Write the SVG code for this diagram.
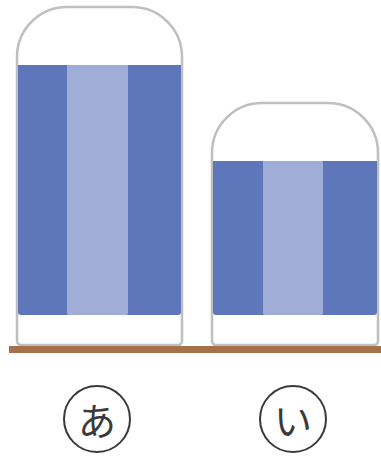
<svg xmlns="http://www.w3.org/2000/svg" width="381" height="456" viewBox="0 0 381 456">
<style>
.jar{fill:#fff;stroke:#BEBEC3;stroke-width:2.5}
.dark{fill:#5E77BB}
.light{fill:#A0ADD6}
.lbl{fill:#fff;stroke:#3a3a3a;stroke-width:2}
.t{font-family:"Noto Sans CJK JP",sans-serif;font-size:38px;fill:#3a3a3a;text-anchor:middle;dominant-baseline:central}
</style>
<g id="jarA">
<path class="jar" d="M17,341 V57 A50,50 0 0 1 67,7 H132 A50,50 0 0 1 182,57 V341 A4,4 0 0 1 178,345 H21 A4,4 0 0 1 17,341 Z"/>
<path class="dark" d="M18,65 H181 V312 A3,3 0 0 1 178,315 H21 A3,3 0 0 1 18,312 Z"/>
<path class="light" d="M67,65 H128 V313 A2,2 0 0 1 126,315 H69 A2,2 0 0 1 67,313 Z"/>
</g>
<g id="jarB">
<path class="jar" d="M212,341 V153 A50,50 0 0 1 262,103 H328 A50,50 0 0 1 378,153 V341 A4,4 0 0 1 374,345 H216 A4,4 0 0 1 212,341 Z"/>
<path class="dark" d="M213,161 H377 V312 A3,3 0 0 1 374,315 H216 A3,3 0 0 1 213,312 Z"/>
<path class="light" d="M263,161 H323 V313 A2,2 0 0 1 321,315 H265 A2,2 0 0 1 263,313 Z"/>
</g>
<g id="ground"><rect x="9" y="346" width="372" height="7" fill="#A4714A"/></g>
<g id="labelA"><circle class="lbl" cx="97" cy="419" r="33"/><text class="t" x="97" y="418">あ</text></g>
<g id="labelB"><circle class="lbl" cx="293" cy="419" r="33"/><text class="t" x="293" y="418">い</text></g>
</svg>
